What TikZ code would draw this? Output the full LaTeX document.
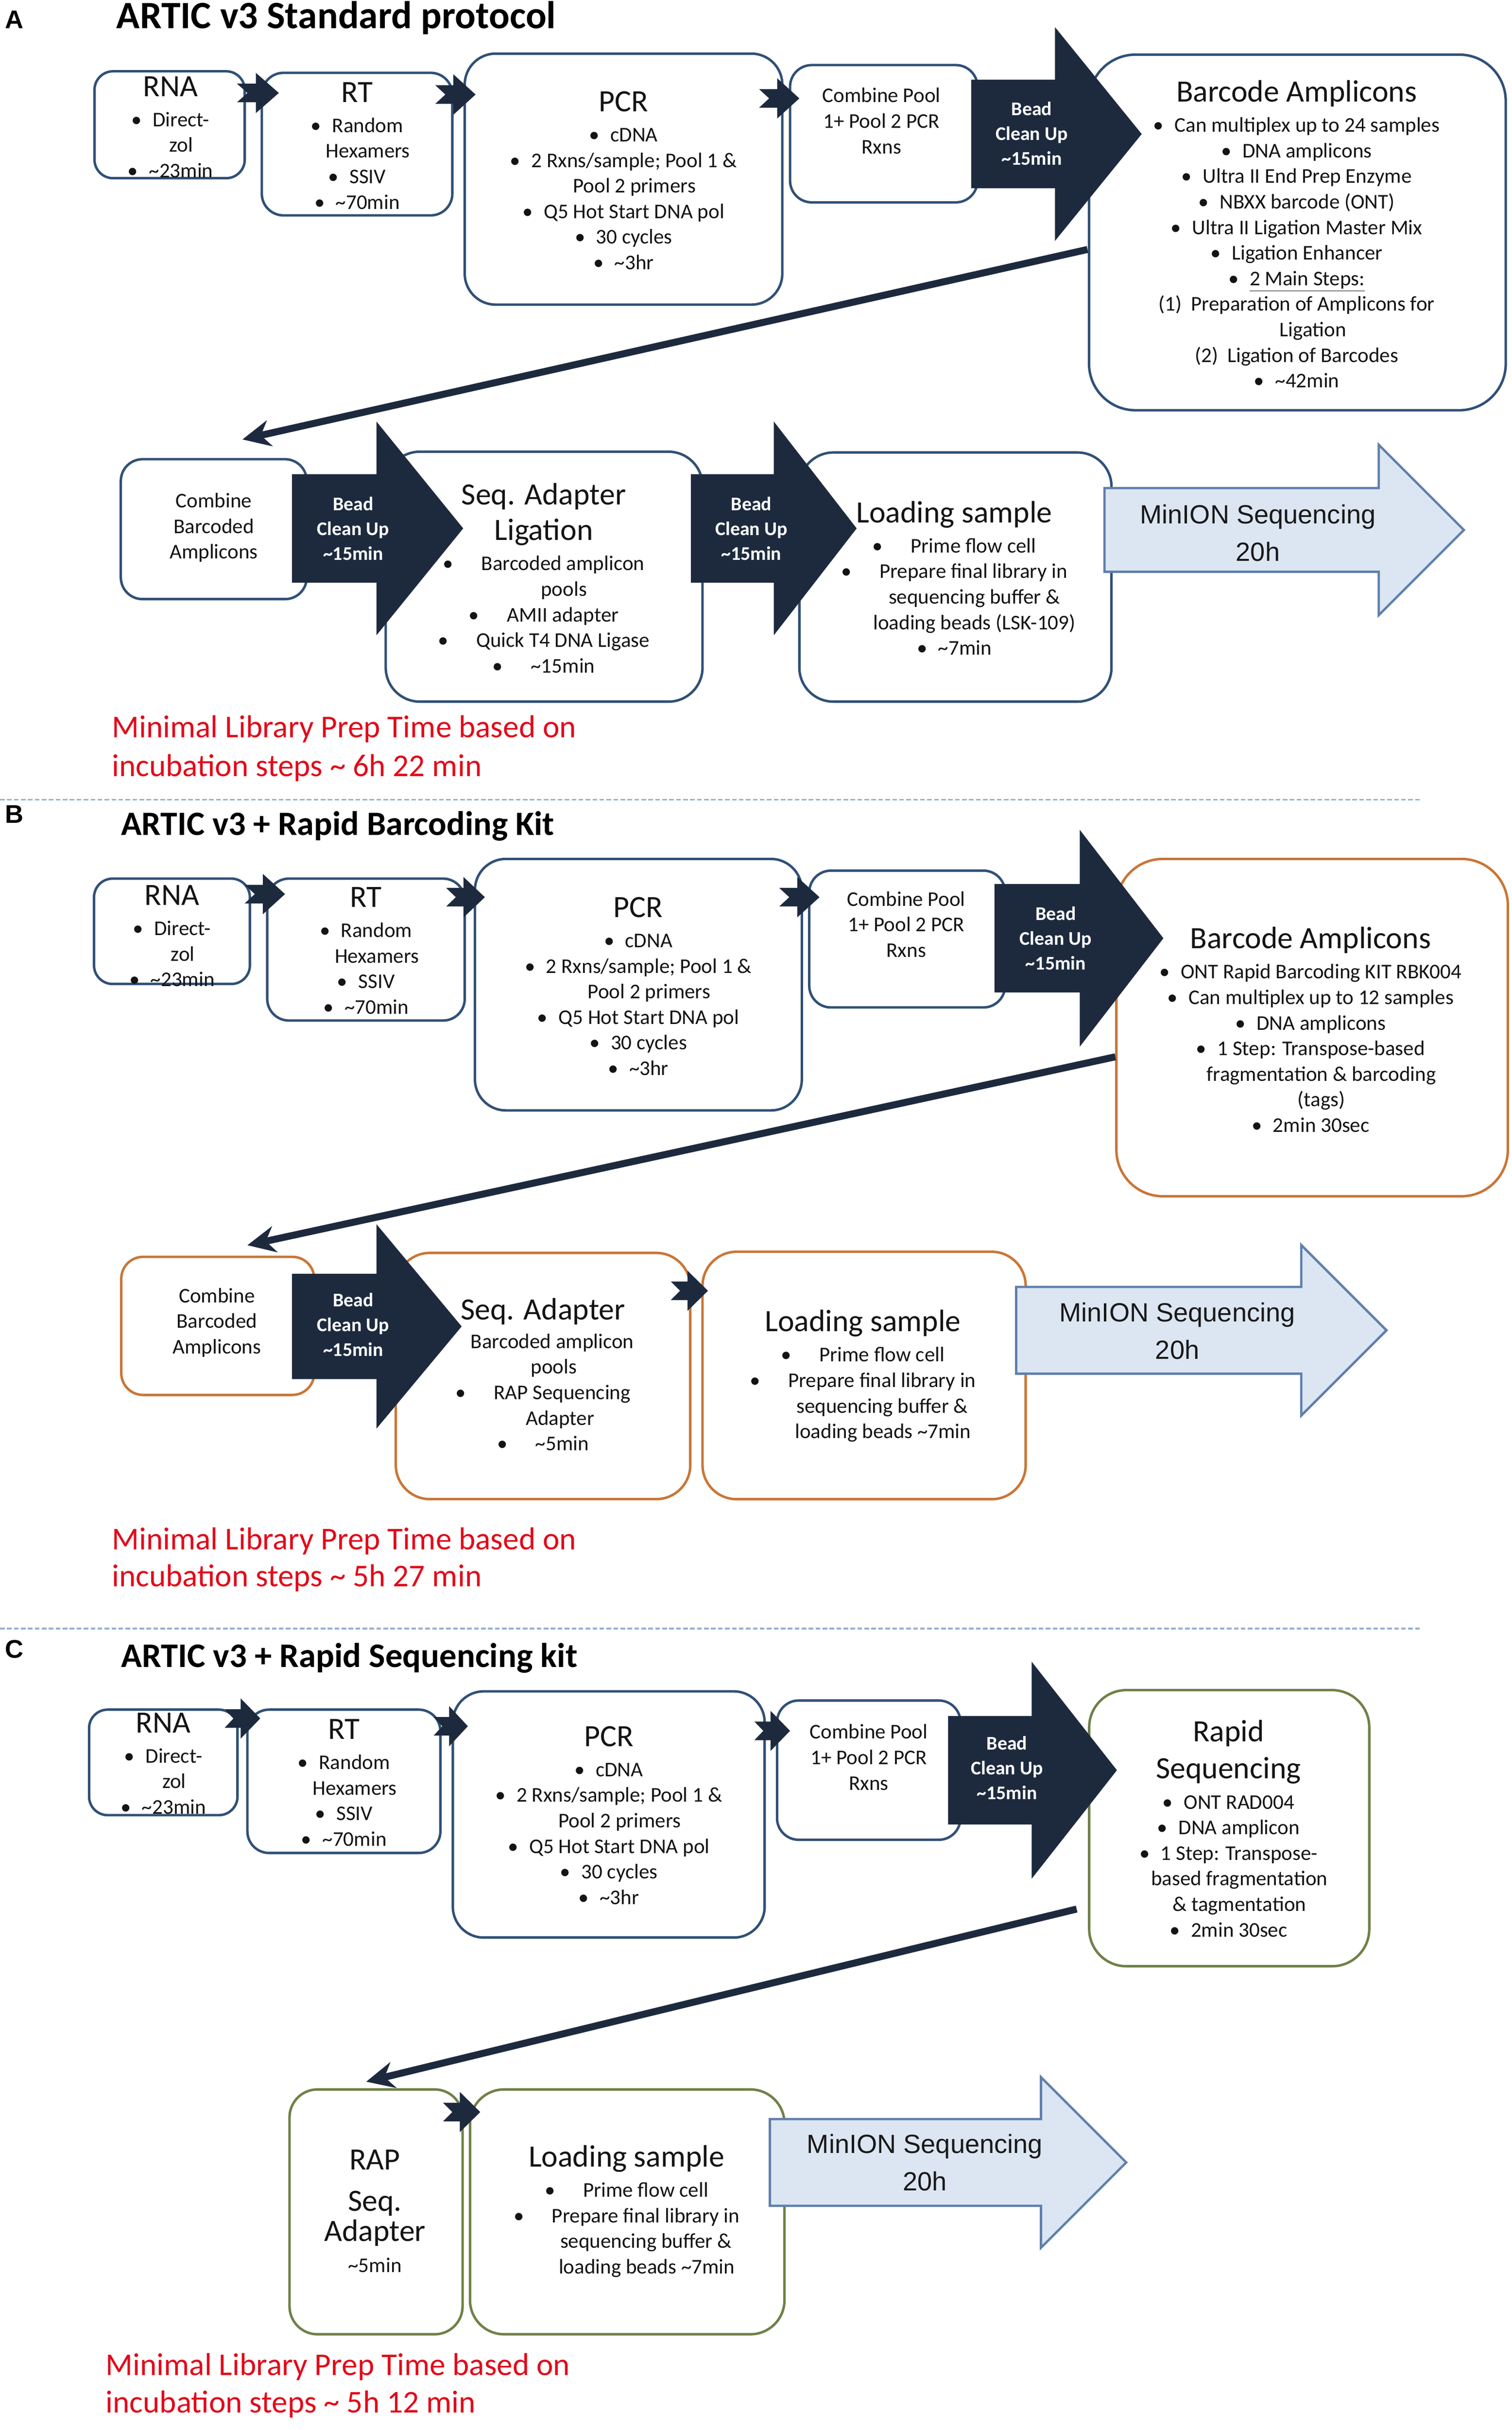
\documentclass[tikz,border=0pt]{standalone}
\usepackage{fontspec}
\setmainfont{Carlito}
\newfontfamily\arialf{Liberation Sans}
\usetikzlibrary{arrows.meta}
\definecolor{navy}{RGB}{29,42,62}
\definecolor{boxblue}{RGB}{48,80,118}
\definecolor{boxorange}{RGB}{201,118,54}
\definecolor{boxgreen}{RGB}{112,128,72}
\definecolor{minfill}{RGB}{220,230,242}
\definecolor{minline}{RGB}{96,128,172}
\definecolor{redc}{RGB}{226,10,26}
\definecolor{sepc}{RGB}{150,176,212}
\newcommand{\fbody}{\fontsize{13.5}{16.5}\selectfont}
\newcommand{\fttl}{\fontsize{20}{24}\selectfont}
\newcommand{\myb}{\textbullet\hspace{7pt}}
\newcommand{\mybb}{\textbullet\hspace{18pt}}
\newcommand{\mysh}[1]{\hspace*{#1pt}}
\newcommand{\mytld}{\textasciitilde}
\newcommand{\bigarr}[6]{%
  \fill[navy] (#1,#4-#5) -- (#2,#4-#5) -- (#2,#4-#6) -- (#3,#4) -- (#2,#4+#6) -- (#2,#4+#5) -- (#1,#4+#5) -- cycle;}
\newcommand{\minarr}[6]{%
  \filldraw[fill=minfill, draw=minline, line width=1.5pt, line join=miter] (#1,#4-#5) -- (#2,#4-#5) -- (#2,#4-#6) -- (#3,#4) -- (#2,#4+#6) -- (#2,#4+#5) -- (#1,#4+#5) -- cycle;}
\newcommand{\smarr}[3]{%
  \fill[navy] (#1,#3-6) -- ({#1+0.45*(#2-#1)},#3-6) -- ({#1+0.45*(#2-#1)},#3-13) -- (#2,#3) -- ({#1+0.45*(#2-#1)},#3+13) -- ({#1+0.45*(#2-#1)},#3+6) -- (#1,#3+6) -- ({#1+0.25*(#2-#1)},#3) -- cycle;}
\tikzset{
  bxb/.style={draw=boxblue, line width=1.6pt, fill=white, inner sep=0pt},
  bxo/.style={draw=boxorange, line width=1.6pt, fill=white, inner sep=0pt},
  bxg/.style={draw=boxgreen, line width=1.6pt, fill=white, inner sep=0pt},
  txt/.style={align=center, font=\fbody, inner sep=0pt, text=black!92},
  beadtxt/.style={align=center, font=\fontsize{12.5}{16}\selectfont\bfseries, text=white, inner sep=0pt},
  mintxt/.style={align=center, font=\arialf\fontsize{17}{24}\selectfont, inner sep=0pt, text=black!90},
  redtxt/.style={font=\fontsize{20.5}{25}\selectfont, text=redc, inner sep=0pt, anchor=base west},
  ttl/.style={font=\fontsize{#1}{28}\selectfont\bfseries, inner sep=0pt, anchor=base west},
  lbl/.style={font=\arialf\bfseries\fontsize{16.5}{20}\selectfont, inner sep=0pt, anchor=base west},
  longarr/.style={draw=navy, line width=4.5pt, -{Stealth[length=18pt,width=17pt]}},
  sepline/.style={draw=sepc, line width=1pt, dash pattern=on 3pt off 1.5pt}
}
\begin{document}
\begin{tikzpicture}[x=1pt,y=-1pt]
\useasboundingbox (0,0) rectangle (976,1568.2);
\fill[white] (0,0) rectangle (976,1568.2);

% separators
\draw[sepline] (0,516) -- (918,516);
\draw[sepline] (0,1051) -- (918,1051);

% labels and titles
\node[lbl] (labA) at (3,18.5) {A};
\node[ttl=25] (ttlA) at (75,18.5) {ARTIC v3 Standard protocol};
\node[lbl] (labB) at (3,531) {B};
\node[ttl=22] (ttlB) at (78,539) {ARTIC v3 + Rapid Barcoding Kit};
\node[lbl] (labC) at (3,1070) {C};
\node[ttl=22.2] (ttlC) at (78,1076) {ARTIC v3 + Rapid Sequencing kit};

% ---------- Panel A boxes
\node[bxb, rounded corners=12pt, minimum width=97pt, minimum height=69pt] (rnaA) at (109.5,80.5) {};
\node[bxb, rounded corners=14pt, minimum width=123pt, minimum height=92pt] (rtA) at (230.5,93) {};
\node[bxb, rounded corners=20pt, minimum width=205pt, minimum height=162pt] (pcrA) at (402.5,115.6) {};
\node[bxb, rounded corners=14pt, minimum width=121pt, minimum height=88.6pt] (cpA) at (570.5,86.3) {};
\node[bxb, rounded corners=30pt, minimum width=269pt, minimum height=229.5pt] (barA) at (837.5,150) {};
\node[bxb, rounded corners=14pt, minimum width=120pt, minimum height=90.3pt] (cbA) at (138,341.5) {};
\node[bxb, rounded corners=22pt, minimum width=204.5pt, minimum height=161.3pt] (salA) at (351.25,372.15) {};
\node[bxb, rounded corners=22pt, minimum width=201.5pt, minimum height=160.8pt] (lsA) at (616.75,372.4) {};

% ---------- Panel B boxes
\node[bxb, rounded corners=12pt, minimum width=100.6pt, minimum height=68pt] (rnaB) at (111,601) {};
\node[bxb, rounded corners=14pt, minimum width=127.5pt, minimum height=91.6pt] (rtB) at (236.25,612.8) {};
\node[bxb, rounded corners=20pt, minimum width=211pt, minimum height=162.3pt] (pcrB) at (412.1,635.45) {};
\node[bxb, rounded corners=14pt, minimum width=126.4pt, minimum height=88.3pt] (cpB) at (585.6,606) {};
\node[bxo, rounded corners=30pt, minimum width=252.7pt, minimum height=217.7pt] (barB) at (847,663.15) {};
\node[bxo, rounded corners=14pt, minimum width=124.5pt, minimum height=89.1pt] (cbB) at (140.55,855.65) {};
\node[bxo, rounded corners=22pt, minimum width=190.1pt, minimum height=158.9pt] (saB) at (350.55,888) {};
\node[bxo, rounded corners=22pt, minimum width=208.6pt, minimum height=159.7pt] (lsB) at (557.8,887.65) {};

% ---------- Panel C boxes
\node[bxb, rounded corners=12pt, minimum width=95.8pt, minimum height=68.1pt] (rnaC) at (105.4,1137.35) {};
\node[bxb, rounded corners=14pt, minimum width=124.6pt, minimum height=92.5pt] (rtC) at (222,1149.55) {};
\node[bxb, rounded corners=20pt, minimum width=201.3pt, minimum height=158.9pt] (pcrC) at (392.95,1170.95) {};
\node[bxb, rounded corners=14pt, minimum width=118.4pt, minimum height=89.9pt] (cpC) at (560.8,1142.35) {};
\node[bxg, rounded corners=24pt, minimum width=180.8pt, minimum height=178.2pt] (rsC) at (793.5,1179.8) {};
\node[bxg, rounded corners=18pt, minimum width=111.7pt, minimum height=158pt] (rapC) at (242.75,1427.4) {};
\node[bxg, rounded corners=22pt, minimum width=203pt, minimum height=158pt] (lsC) at (404.9,1427.4) {};

% ---------- small arrows
\smarr{153}{180}{60}
\smarr{281}{307}{61}
\smarr{490}{516}{63.5}
\smarr{158}{184}{577}
\smarr{288}{313}{579}
\smarr{503}{529}{579}
\smarr{433}{457}{833}
\smarr{145}{168}{1109}
\smarr{280}{302}{1114}
\smarr{487}{510}{1117}
\smarr{286}{310}{1363}

% ---------- big dark arrows (bead clean up)
\bigarr{627}{681}{737}{86.5}{35}{69}
\bigarr{188.5}{243}{299}{341}{35}{69}
\bigarr{446}{499.5}{553}{341}{35}{69}
\bigarr{642}{697}{751}{605.5}{35}{70}
\bigarr{188.5}{243}{298}{856}{34}{66}
\bigarr{612}{666}{721}{1142.4}{35}{70}

% ---------- MinION arrows
\minarr{713}{890}{945}{342}{27}{55}
\minarr{656}{840}{895}{858.5}{28}{55}
\minarr{497}{672}{727}{1395.5}{28}{55}

% ---------- long connectors
\coordinate (lA1) at (702,161);
\coordinate (lA2) at (156.5,283.6);
\coordinate (lB1) at (720,682);
\coordinate (lB2) at (159.7,803.6);
\coordinate (lC1) at (695,1232);
\coordinate (lC2) at (236.4,1343.4);
\draw[longarr] (lA1) -- (lA2);
\draw[longarr] (lB1) -- (lB2);
\draw[longarr] (lC1) -- (lC2);

% ---------- texts panel A
\node[txt] (tRnaA) at (110,82) {{\fttl RNA}\\[3pt] \myb Direct-\\ \mysh{14}zol\\ \myb \mytld23min};
\node[txt] (tRtA) at (230.5,94) {{\fttl RT}\\[3pt] \myb Random\\ \mysh{14}Hexamers\\ \myb SSIV\\ \myb \mytld70min};
\node[txt] (tPcrA) at (402.5,116.5) {{\fttl PCR}\\[3pt] \myb cDNA\\ \myb 2 Rxns/sample; Pool 1 \&\\ \mysh{14}Pool 2 primers\\ \myb Q5 Hot Start DNA pol\\ \myb 30 cycles\\ \myb \mytld3hr};
\node[txt] (tCpA) at (569,78) {Combine Pool\\ 1+ Pool 2 PCR\\ Rxns};
\node[txt] (tBarA) at (837,151) {{\fttl Barcode Amplicons}\\[3pt] \myb Can multiplex up to 24 samples\\ \myb DNA amplicons\\ \myb Ultra II End Prep Enzyme\\ \myb NBXX barcode (ONT)\\ \myb Ultra II Ligation Master Mix\\ \myb Ligation Enhancer\\ \myb \underline{2 Main Steps:}\\ (1)\hspace{6pt}Preparation of Amplicons for\\ \mysh{21}Ligation\\ (2)\hspace{6pt}Ligation of Barcodes\\ \myb \mytld42min};
\node[txt] (tCbA) at (138,340.5) {Combine\\ Barcoded\\ Amplicons};
\node[txt] (tSalA) at (351,373) {{\fttl Seq. Adapter}\\[5pt] {\fttl Ligation}\\[3pt] \mybb Barcoded amplicon\\ \mysh{26}pools\\ \mybb AMII adapter\\ \mybb Quick T4 DNA Ligase\\ \mybb \mytld15min};
\node[txt] (tLsA) at (616,373) {{\fttl Loading sample}\\[3pt] \mybb Prime flow cell\\ \mybb Prepare final library in\\ \mysh{26}sequencing buffer \&\\ \mysh{26}loading beads (LSK-109)\\ \myb \mytld7min};
\node[beadtxt] (bdA1) at (666,86) {Bead\\ Clean Up\\ \mytld15min};
\node[beadtxt] (bdA2) at (228,341) {Bead\\ Clean Up\\ \mytld15min};
\node[beadtxt] (bdA3) at (485,341) {Bead\\ Clean Up\\ \mytld15min};
\node[mintxt] (mnA) at (812,344) {MinION Sequencing\\ 20h};
\node[redtxt] (redA1) at (72,476) {Minimal Library Prep Time based on};
\node[redtxt] (redA2) at (72,501) {incubation steps \mytld{} 6h 22 min};

% ---------- texts panel B
\node[txt] (tRnaB) at (111,604) {{\fttl RNA}\\[3pt] \myb Direct-\\ \mysh{14}zol\\ \myb \mytld23min};
\node[txt] (tRtB) at (236.25,613.5) {{\fttl RT}\\[3pt] \myb Random\\ \mysh{14}Hexamers\\ \myb SSIV\\ \myb \mytld70min};
\node[txt] (tPcrB) at (412,636.5) {{\fttl PCR}\\[3pt] \myb cDNA\\ \myb 2 Rxns/sample; Pool 1 \&\\ \mysh{14}Pool 2 primers\\ \myb Q5 Hot Start DNA pol\\ \myb 30 cycles\\ \myb \mytld3hr};
\node[txt] (tCpB) at (585,596.5) {Combine Pool\\ 1+ Pool 2 PCR\\ Rxns};
\node[txt] (tBarB) at (846,664.5) {{\fttl Barcode Amplicons}\\[3pt] \myb ONT Rapid Barcoding KIT RBK004\\ \myb Can multiplex up to 12 samples\\ \myb DNA amplicons\\ \myb 1 Step: Transpose-based\\ \mysh{14}fragmentation \& barcoding\\ \mysh{14}(tags)\\ \myb 2min 30sec};
\node[txt] (tCbB) at (140,853.5) {Combine\\ Barcoded\\ Amplicons};
\node[txt] (tSaB) at (350.5,887) {{\fttl Seq. Adapter}\\[2pt] \mysh{12}Barcoded amplicon\\ \mysh{14}pools\\ \mybb RAP Sequencing\\ \mysh{22}Adapter\\ \mybb \mytld5min};
\node[txt] (tLsB) at (557,888) {{\fttl Loading sample}\\[3pt] \mybb Prime flow cell\\ \mybb Prepare final library in\\ \mysh{25}sequencing buffer \&\\ \mysh{26}loading beads \mytld7min};
\node[beadtxt] (bdB1) at (681.5,605.6) {Bead\\ Clean Up\\ \mytld15min};
\node[beadtxt] (bdB2) at (228,855) {Bead\\ Clean Up\\ \mytld15min};
\node[mintxt] (mnB) at (760,859) {MinION Sequencing\\ 20h};
\node[redtxt] (redB1) at (72,1000) {Minimal Library Prep Time based on};
\node[redtxt] (redB2) at (72,1024) {incubation steps \mytld{} 5h 27 min};

% ---------- texts panel C
\node[txt] (tRnaC) at (105.4,1138) {{\fttl RNA}\\[3pt] \myb Direct-\\ \mysh{14}zol\\ \myb \mytld23min};
\node[txt] (tRtC) at (222,1150.5) {{\fttl RT}\\[3pt] \myb Random\\ \mysh{14}Hexamers\\ \myb SSIV\\ \myb \mytld70min};
\node[txt] (tPcrC) at (393,1171.5) {{\fttl PCR}\\[3pt] \myb cDNA\\ \myb 2 Rxns/sample; Pool 1 \&\\ \mysh{14}Pool 2 primers\\ \myb Q5 Hot Start DNA pol\\ \myb 30 cycles\\ \myb \mytld3hr};
\node[txt] (tCpC) at (560.8,1134) {Combine Pool\\ 1+ Pool 2 PCR\\ Rxns};
\node[txt] (tRsC) at (793,1180) {{\fttl Rapid}\\[6pt] {\fttl Sequencing}\\[3pt] \myb ONT RAD004\\ \myb DNA amplicon\\ \myb 1 Step: Transpose-\\ \mysh{14}based fragmentation\\ \mysh{14}\& tagmentation\\ \myb 2min 30sec};
\node[txt] (tRapC) at (242,1427) {{\fttl RAP}\\[10pt] {\fttl Seq.}\\[1.5pt] {\fttl Adapter}\\[3.5pt] \mytld5min};
\node[txt] (tLsC) at (404.5,1427) {{\fttl Loading sample}\\[3pt] \mybb Prime flow cell\\ \mybb Prepare final library in\\ \mysh{25}sequencing buffer \&\\ \mysh{26}loading beads \mytld7min};
\node[beadtxt] (bdC1) at (650,1141) {Bead\\ Clean Up\\ \mytld15min};
\node[mintxt] (mnC) at (597,1395.5) {MinION Sequencing\\ 20h};
\node[redtxt] (redC1) at (68,1533) {Minimal Library Prep Time based on};
\node[redtxt] (redC2) at (68,1557) {incubation steps \mytld{} 5h 12 min};
\end{tikzpicture}
\end{document}
